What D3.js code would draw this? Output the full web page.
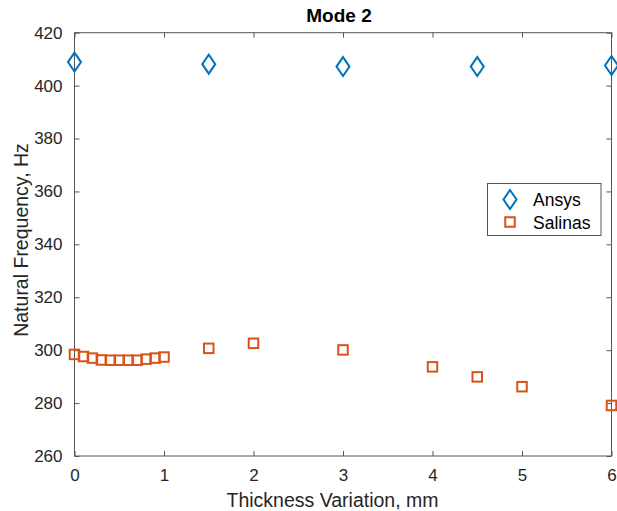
<!DOCTYPE html>
<html>
<head>
<meta charset="utf-8">
<script src="https://cdn.jsdelivr.net/npm/d3@7"></script>
<style>
  html, body { margin: 0; padding: 0; background: #fff; }
  svg { display: block; font-family: "Liberation Sans", Arial, sans-serif; }
</style>
</head>
<body>
<svg id="chart" width="617" height="511"></svg>
<script>
const chartTitle = "Mode 2";
const xLabel = "Thickness Variation, mm";
const yLabel = "Natural Frequency, Hz";
const seriesNames = ["Ansys", "Salinas"];
const ansysX = [0, 1.5, 3, 4.5, 6];
const ansysY = [408.9, 408.1, 407.2, 407.2, 407.6];
const salinasX = [0, 0.1, 0.2, 0.3, 0.4, 0.5, 0.6, 0.7, 0.8, 0.9, 1.0, 1.5, 2, 3, 4, 4.5, 5, 6];
const salinasY = [298.4, 297.6, 297.0, 296.3, 296.2, 296.2, 296.2, 296.2, 296.6, 297.0, 297.4, 300.7, 302.6, 300.1, 293.7, 289.9, 286.2, 279.1];
const xTicks = [0, 1, 2, 3, 4, 5, 6];
const yTicks = [260, 280, 300, 320, 340, 360, 380, 400, 420];
const colors = ["#0072BD", "#D95319"];

const svg = d3.select("#chart");
const L = 74.5, R = 611.5, T = 32.7, B = 456;
const x = d3.scaleLinear().domain([0, 6]).range([L, R]);
const y = d3.scaleLinear().domain([260, 420]).range([B, T]);
const axisColor = "#262626";
const tickLen = 5;

// box
svg.append("rect").attr("x", L).attr("y", T).attr("width", R - L).attr("height", B - T)
  .attr("fill", "none").attr("stroke", "#555").attr("stroke-width", 1);

// axes via d3
const xAxis = svg.append("g").attr("transform", `translate(0,${B})`)
  .call(d3.axisBottom(x).tickValues(xTicks).tickSize(-tickLen).tickPadding(tickLen + 8).tickFormat(d3.format("d")));
const xAxisTop = svg.append("g").attr("transform", `translate(0,${T})`)
  .call(d3.axisTop(x).tickValues(xTicks).tickSize(-tickLen).tickFormat(""));
const yAxis = svg.append("g").attr("transform", `translate(${L},0)`)
  .call(d3.axisLeft(y).tickValues(yTicks).tickSize(-tickLen).tickPadding(tickLen + 7).tickFormat(d3.format("d")));
const yAxisRight = svg.append("g").attr("transform", `translate(${R},0)`)
  .call(d3.axisRight(y).tickValues(yTicks).tickSize(-tickLen).tickFormat(""));

[xAxis, xAxisTop, yAxis, yAxisRight].forEach(g => {
  g.select(".domain").remove();
  g.selectAll(".tick line").attr("stroke", "#555");
  g.selectAll(".tick text").attr("fill", axisColor).style("font-size", "17px")
    .style("font-family", "Liberation Sans, Arial, sans-serif");
});

// title
svg.append("text").attr("x", 339).attr("y", 22.3).attr("text-anchor", "middle")
  .style("font-size", "19px").style("font-weight", "bold").attr("fill", "#000").text(chartTitle);
// x label
svg.append("text").attr("x", 332.5).attr("y", 507).attr("text-anchor", "middle")
  .style("font-size", "19.5px").attr("fill", axisColor).text(xLabel);
// y label
svg.append("text").attr("transform", `translate(28,240) rotate(-90)`).attr("text-anchor", "middle")
  .style("font-size", "19.5px").attr("fill", axisColor).text(yLabel);

const diamond = (cx, cy) => `M${cx},${cy - 9.5} L${cx + 6.5},${cy} L${cx},${cy + 9.5} L${cx - 6.5},${cy} Z`;

// Ansys diamonds
svg.append("g").selectAll("path").data(ansysX.map((d, i) => [d, ansysY[i]])).join("path")
  .attr("d", d => diamond(x(d[0]), y(d[1])))
  .attr("fill", "none").attr("stroke", colors[0]).attr("stroke-width", 2);

// Salinas squares
const sq = 9.5;
svg.append("g").selectAll("rect").data(salinasX.map((d, i) => [d, salinasY[i]])).join("rect")
  .attr("x", d => x(d[0]) - sq / 2).attr("y", d => y(d[1]) - sq / 2)
  .attr("width", sq).attr("height", sq)
  .attr("fill", "none").attr("stroke", colors[1]).attr("stroke-width", 2);

// legend
const lg = svg.append("g");
lg.append("rect").attr("x", 487.5).attr("y", 183.5).attr("width", 113.5).attr("height", 52)
  .attr("fill", "#fff").attr("stroke", "#555").attr("stroke-width", 1);
const ly = [199.5, 222];
lg.append("path").attr("d", diamond(510, ly[0])).attr("fill", "none").attr("stroke", colors[0]).attr("stroke-width", 2);
lg.append("rect").attr("x", 510 - sq / 2).attr("y", ly[1] - sq / 2).attr("width", sq).attr("height", sq)
  .attr("fill", "none").attr("stroke", colors[1]).attr("stroke-width", 2);
seriesNames.forEach((n, i) => {
  lg.append("text").attr("x", 533).attr("y", ly[i] + 6.5).style("font-size", "17.5px").attr("fill", "#000").text(n);
});
</script>
</body>
</html>
